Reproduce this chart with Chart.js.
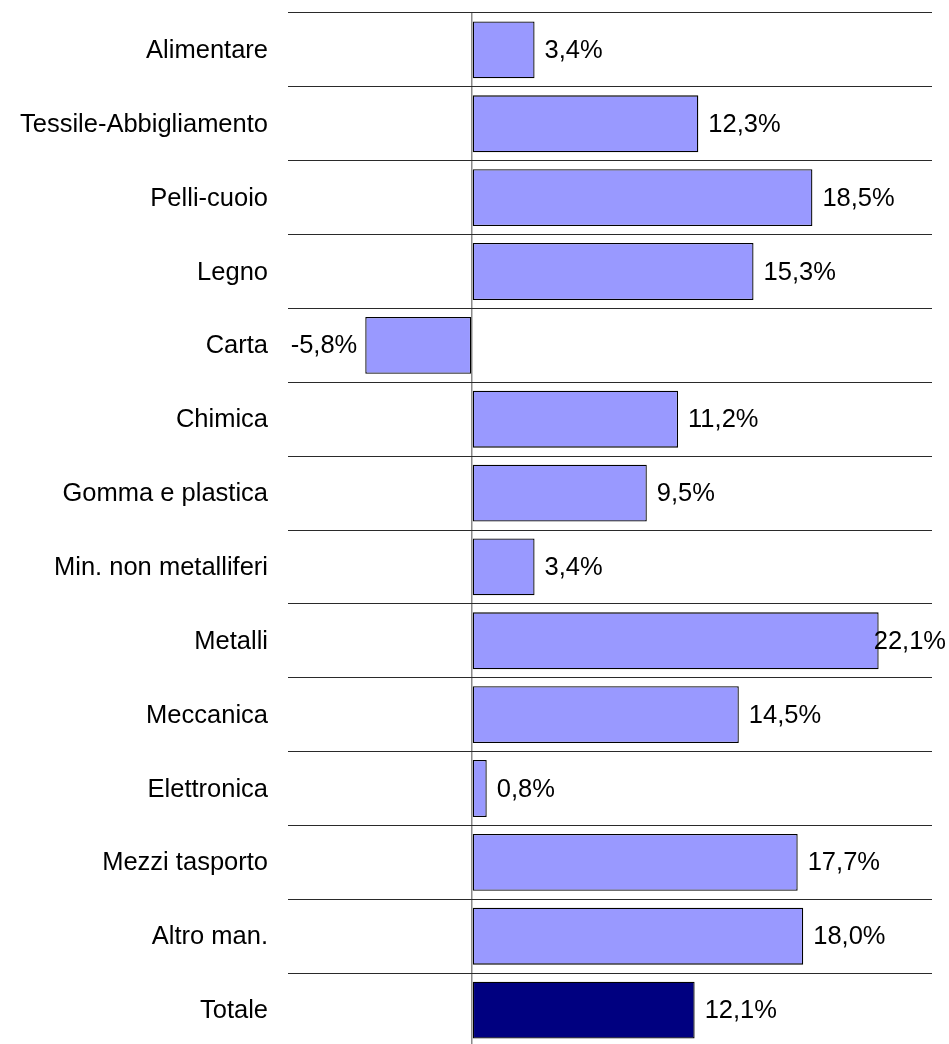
<!DOCTYPE html>
<html>
<head>
<meta charset="utf-8">
<script src="https://cdn.jsdelivr.net/npm/chart.js@4"></script>
<style>
  html, body { margin: 0; padding: 0; background: #fff; overflow: hidden; }
  #wrap { width: 949px; height: 1048px; }
</style>
</head>
<body>
<div id="wrap"><canvas id="myChart" width="949" height="1048"></canvas></div>
<script>
// Data
const categories = ['Alimentare', 'Tessile-Abbigliamento', 'Pelli-cuoio', 'Legno', 'Carta', 'Chimica',
  'Gomma e plastica', 'Min. non metalliferi', 'Metalli', 'Meccanica', 'Elettronica',
  'Mezzi tasporto', 'Altro man.', 'Totale'];
const values = [3.4, 12.3, 18.5, 15.3, -5.8, 11.2, 9.5, 3.4, 22.1, 14.5, 0.8, 17.7, 18.0, 12.1];
const totalLabel = 'Totale';

const FONT = '"Liberation Sans", Arial, sans-serif';
const FONT_SIZE = 25.5;

function fmt(v) {
  return v.toFixed(1).replace('.', ',') + '%';
}

// category names and value labels
const textLabels = {
  id: 'textLabels',
  afterDatasetsDraw(chart) {
    const ctx = chart.ctx;
    const meta = chart.getDatasetMeta(0);
    const yScale = chart.scales.y;
    ctx.save();
    ctx.font = FONT_SIZE + 'px ' + FONT;
    ctx.fillStyle = '#000';
    ctx.textBaseline = 'middle';

    // category names, right aligned
    ctx.textAlign = 'right';
    categories.forEach((c, i) => {
      ctx.fillText(c, chart.chartArea.left - 20, yScale.getPixelForTick(i) + 1);
    });

    // values
    ctx.textAlign = 'left';
    meta.data.forEach((bar, i) => {
      const v = values[i];
      const txt = fmt(v);
      const w = ctx.measureText(txt).width;
      let x;
      if (v >= 0) {
        x = bar.x + 10;
        if (x + w > chart.width - 3) x = chart.width - 3 - w;
      } else {
        x = bar.x - 8 - w;
      }
      ctx.fillText(txt, x, bar.y + 1);
    });
    ctx.restore();
  }
};

var ctx = document.getElementById('myChart');

var myChart = new Chart(ctx, {
  type: 'bar',
  data: {
    labels: categories,
    datasets: [{
      data: values,
      backgroundColor: categories.map(c => c == totalLabel ? '#000080' : '#9999FF'),
      borderColor: '#000',
      borderWidth: 1.3,
      borderSkipped: false,
      barPercentage: 0.77,
      categoryPercentage: 1
    }]
  },
  options: {
    indexAxis: 'y',
    responsive: false,
    animation: false,
    layout: { padding: { top: 13, right: 17, bottom: 1, left: 0 } },
    plugins: {
      legend: { display: false },
      tooltip: { enabled: false }
    },
    scales: {
      x: {
        min: -10,
        max: 25,
        ticks: { display: false },
        border: { display: false },
        grid: {
          drawTicks: false,
          color: c => c.tick && c.tick.value === 0 ? '#8a8a8a' : 'rgba(0,0,0,0)',
          lineWidth: 1.5
        }
      },
      y: {
        afterFit: s => { s.width = 288; },
        border: { display: false },
        grid: {
          offset: true,
          drawTicks: false,
          color: '#2a2a2a',
          lineWidth: 1
        },
        ticks: { display: false }
      }
    }
  },
  plugins: [textLabels]
});
</script>
</body>
</html>
